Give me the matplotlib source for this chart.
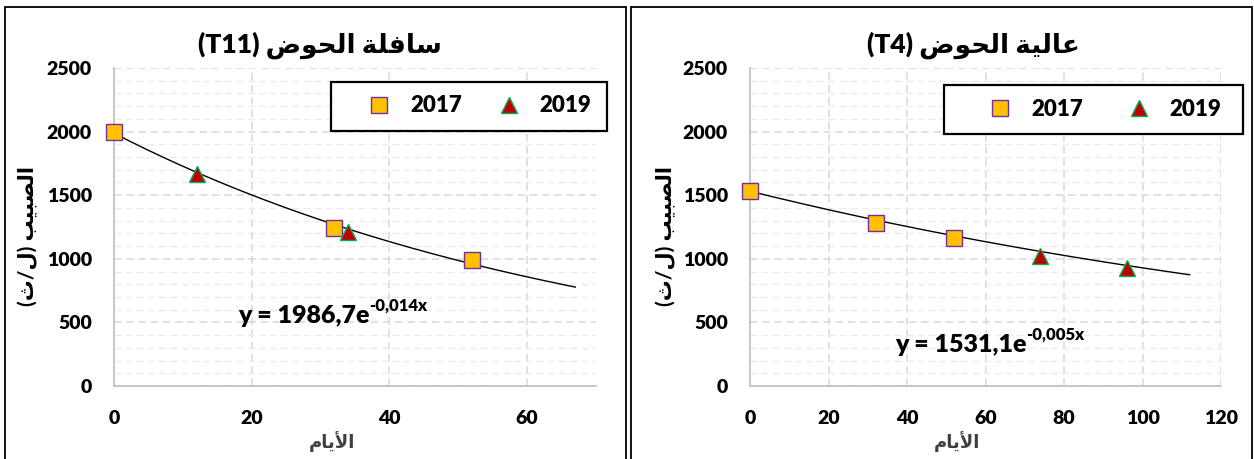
import re
import numpy as np
import matplotlib
matplotlib.use("Agg")
import matplotlib.pyplot as plt
from matplotlib.patches import Rectangle
from matplotlib.lines import Line2D

# ---- data ----
t11_days_2017 = [0, 32, 52]
t11_flow_2017 = [2000, 1245, 990]
t11_days_2019 = [12, 34]
t11_flow_2019 = [1668, 1210]
t11_fit = (1986.7, -0.014)
t11_fit_end = 67

t4_days_2017 = [0, 32, 52]
t4_flow_2017 = [1535, 1278, 1164]
t4_days_2019 = [74, 96]
t4_flow_2019 = [1024, 925]
t4_fit = (1531.1, -0.005)
t4_fit_end = 112

years = ["2017", "2019"]
y_ticks = [0, 500, 1000, 1500, 2000, 2500]

title_t11 = "سافلة الحوض (T11)"
title_t4 = "عالية الحوض (T4)"
ylabel = "الصبيب (ل/ث)"
xlabel = "الأيام"

# ---- minimal arabic shaping (no arabic_reshaper available) ----
FORMS = {
    "ا": (0xFE8D, 0xFE8E), "أ": (0xFE83, 0xFE84), "ة": (0xFE93, 0xFE94),
    "و": (0xFEED, 0xFEEE),
    "ب": (0xFE8F, 0xFE90, 0xFE91, 0xFE92), "ث": (0xFE99, 0xFE9A, 0xFE9B, 0xFE9C),
    "ح": (0xFEA1, 0xFEA2, 0xFEA3, 0xFEA4), "س": (0xFEB1, 0xFEB2, 0xFEB3, 0xFEB4),
    "ص": (0xFEB9, 0xFEBA, 0xFEBB, 0xFEBC), "ض": (0xFEBD, 0xFEBE, 0xFEBF, 0xFEC0),
    "ع": (0xFEC9, 0xFECA, 0xFECB, 0xFECC), "ف": (0xFED1, 0xFED2, 0xFED3, 0xFED4),
    "ل": (0xFEDD, 0xFEDE, 0xFEDF, 0xFEE0), "م": (0xFEE1, 0xFEE2, 0xFEE3, 0xFEE4),
    "ي": (0xFEF1, 0xFEF2, 0xFEF3, 0xFEF4),
}
LAM_ALEF = {"ا": (0xFEFB, 0xFEFC), "أ": (0xFEF7, 0xFEF8)}


def shape(s):
    items = []
    i = 0
    while i < len(s):
        if s[i] == "ل" and i + 1 < len(s) and s[i + 1] in LAM_ALEF:
            items.append(("LA", s[i + 1]))
            i += 2
        else:
            items.append((s[i], None))
            i += 1

    def is_letter(it):
        return it[0] == "LA" or it[0] in FORMS

    def joins_next(it):
        return it[0] in FORMS and len(FORMS[it[0]]) == 4

    out = []
    for k, it in enumerate(items):
        prev = items[k - 1] if k > 0 else None
        nxt = items[k + 1] if k + 1 < len(items) else None
        jp = prev is not None and joins_next(prev) and is_letter(it)
        jn = nxt is not None and joins_next(it) and is_letter(nxt)
        if it[0] == "LA":
            iso, fin = LAM_ALEF[it[1]]
            out.append(chr(fin if jp else iso))
            continue
        f = FORMS.get(it[0])
        if f is None:
            out.append(it[0])
        elif jp and jn:
            out.append(chr(f[3]))
        elif jp:
            out.append(chr(f[1]))
        elif jn:
            out.append(chr(f[2]))
        else:
            out.append(chr(f[0]))
    return "".join(out)


def ar(s):
    runs = re.findall(r"[A-Za-z0-9]+|.", shape(s))
    mirror = {"(": ")", ")": "("}
    return "".join(mirror.get(r, r) for r in reversed(runs))


plt.rcParams["font.family"] = ["Lato", "DejaVu Sans"]
plt.rcParams["font.weight"] = "heavy"
W = "heavy"

fig = plt.figure(figsize=(12.54, 4.59), dpi=100)

# panel borders
for x0, x1 in [(5, 626), (631, 1252)]:
    fig.patches.append(Rectangle((x0 / 1254, -0.05), (x1 - x0) / 1254, 1.05 - 7 / 459,
                                 transform=fig.transFigure, fill=False,
                                 edgecolor="black", lw=1.3))

panels = [
    dict(rect=[114 / 1254, 0.159, 482 / 1254, 0.693], xmax=70,
         d17=t11_days_2017, f17=t11_flow_2017, d19=t11_days_2019, f19=t11_flow_2019,
         fit=t11_fit, fit_end=t11_fit_end, title=title_t11, title_x=320,
         box=(0.450, 0.802, 0.573, 0.154), leg_x=0.504, leg_y=0.881, colsp=1.1,
         eq=(0.257, 0.198), xlab_x=0.452),
    dict(rect=[750 / 1254, 0.159, 471 / 1254, 0.693], xmax=120,
         d17=t4_days_2017, f17=t4_flow_2017, d19=t4_days_2019, f19=t4_flow_2019,
         fit=t4_fit, fit_end=t4_fit_end, title=title_t4, title_x=973,
         box=(0.412, 0.792, 0.635, 0.154), leg_x=0.484, leg_y=0.869, colsp=1.5,
         eq=(0.308, 0.107), xlab_x=0.44),
]

for p in panels:
    ax = fig.add_axes(p["rect"])
    ax.set_xlim(0, p["xmax"])
    ax.set_ylim(0, 2500)
    ax.set_xticks(np.arange(0, p["xmax"] + 1, 20))
    ax.set_yticks(y_ticks)
    ax.set_yticks(np.arange(0, 2501, 100), minor=True)
    ax.grid(which="major", color="#d9d9d9", ls=(0, (5, 3)), lw=1.1)
    ax.grid(which="minor", axis="y", color="#ebebeb", ls=(0, (5, 3)), lw=1.0)
    ax.tick_params(which="both", length=0, labelsize=14)
    ax.tick_params(axis="y", pad=16)
    ax.tick_params(axis="x", pad=17)
    for lab in ax.get_xticklabels() + ax.get_yticklabels():
        lab.set_fontweight(W)
    for s in ["top", "right"]:
        ax.spines[s].set_visible(False)
    for s in ["left", "bottom"]:
        ax.spines[s].set_color("#bfbfbf")
        ax.spines[s].set_linewidth(1.2)
    ax.set_axisbelow(True)

    a, b = p["fit"]
    xf = np.linspace(0, p["fit_end"], 200)
    ax.plot(xf, a * np.exp(b * xf), color="black", lw=1.0, zorder=2)

    ax.plot(p["d17"], p["f17"], ls="none", marker="s", ms=11.5,
            mfc="#ffc000", mec="#7030a0", mew=1.0, zorder=3, clip_on=False)
    ax.plot(p["d19"], p["f19"], ls="none", marker="^", ms=12,
            mfc="#c00000", mec="#00b050", mew=1.0, zorder=3, clip_on=False)

    # legend box + legend
    bx = p["box"]
    ax.add_patch(Rectangle((bx[0], bx[1]), bx[2], bx[3], transform=ax.transAxes,
                           facecolor="white", edgecolor="black", lw=1.6,
                           clip_on=False, zorder=5))
    handles = [
        Line2D([], [], ls="none", marker="s", ms=11, mfc="#ffc000", mec="#7030a0", mew=1.0),
        Line2D([], [], ls="none", marker="^", ms=11, mfc="#c00000", mec="#00b050", mew=1.0),
    ]
    leg = ax.legend(handles, years, loc="center left",
                    bbox_to_anchor=(p["leg_x"], p["leg_y"]), ncol=2, frameon=False,
                    borderpad=0, borderaxespad=0, handlelength=2.0,
                    handletextpad=0.4, columnspacing=p["colsp"],
                    prop={"size": 16, "weight": W})
    leg.set_zorder(6)

    # trend equation
    eq_main = "y = " + f"{a:.1f}".replace(".", ",") + "e"
    eq_sup = f"{b:.3f}".replace(".", ",") + "x"
    t = ax.text(p["eq"][0], p["eq"][1], eq_main, transform=ax.transAxes,
                fontsize=18, fontweight=W, ha="left", va="baseline", zorder=4)
    ax.annotate(eq_sup, xy=(1.0, 0.62), xycoords=t, ha="left", va="bottom",
                fontsize=12, fontweight=W, zorder=4)

    ax.text(p["xlab_x"], -0.176, ar(xlabel), transform=ax.transAxes,
            ha="center", va="center", fontsize=13, fontweight="bold", color="#404040",
            family=["DejaVu Sans"])
    ax.text(-0.178, 0.472, ar(ylabel), transform=ax.transAxes, rotation=90,
            ha="center", va="center", fontsize=15, fontweight="bold",
            family=["Lato", "DejaVu Sans"])

    fig.text(p["title_x"] / 1254, 1 - 45 / 459, ar(p["title"]), ha="center",
             va="center", fontsize=19, fontweight=W,
             family=["Lato", "DejaVu Sans"])

fig.savefig("out.png", dpi=100)
